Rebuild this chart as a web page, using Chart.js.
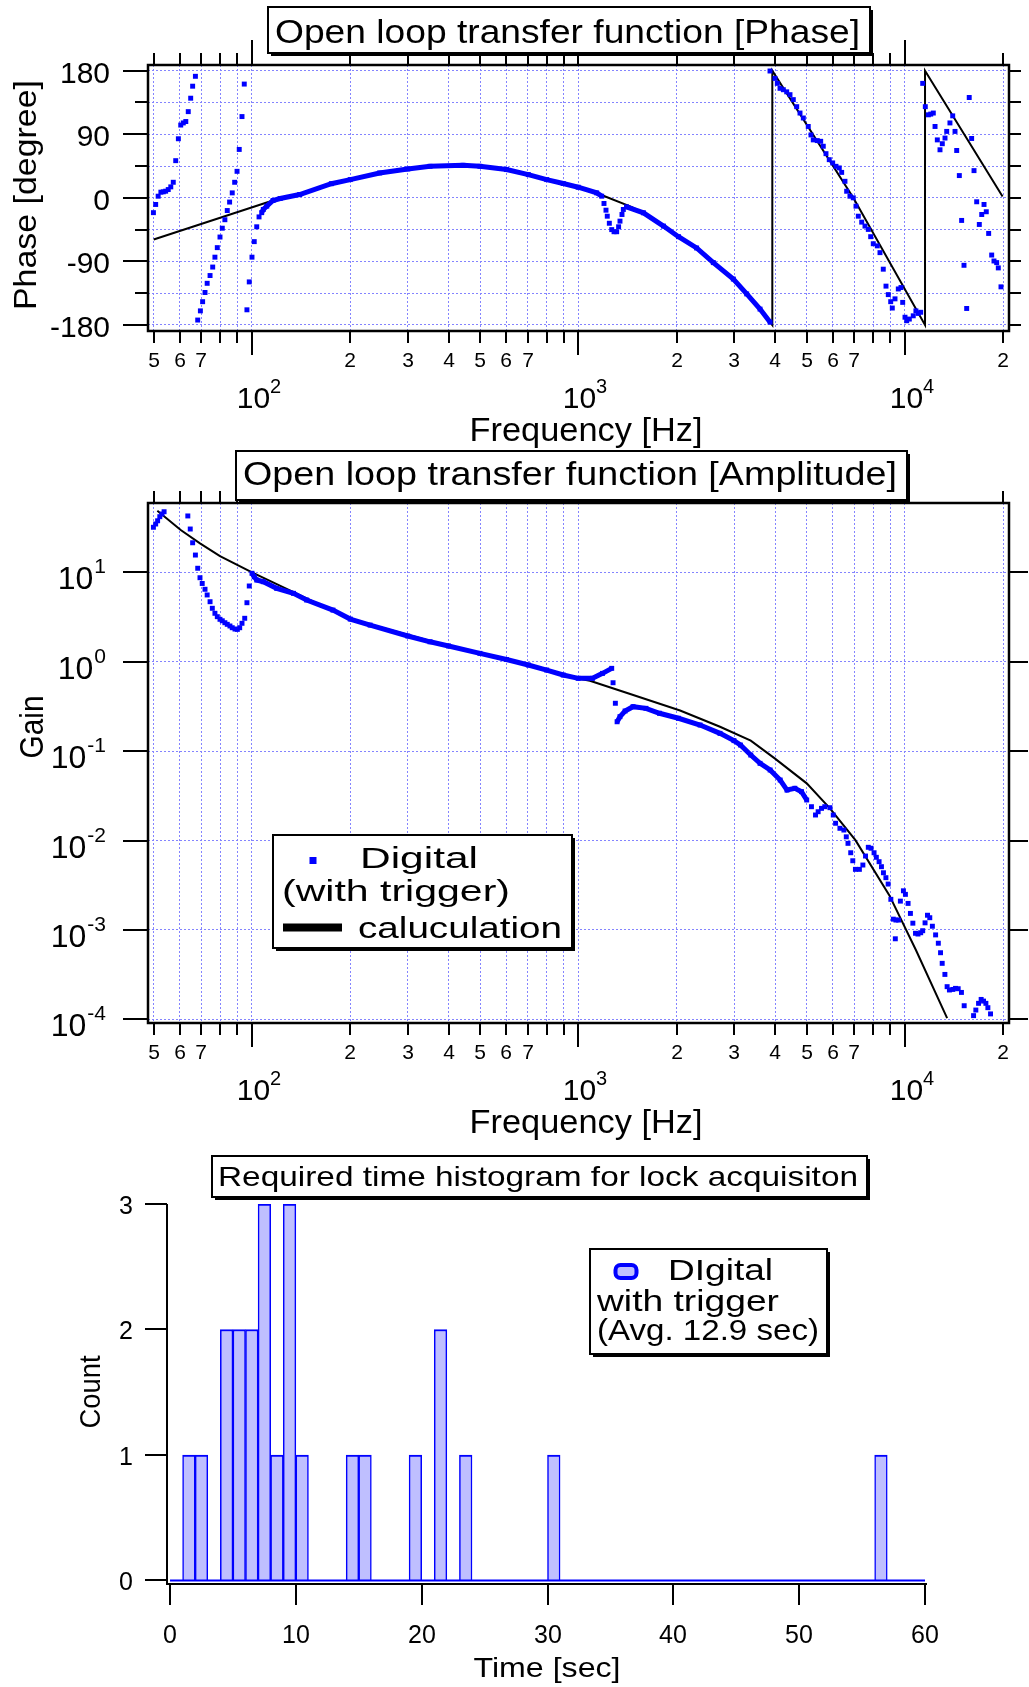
<!DOCTYPE html>
<html>
<head>
<meta charset="utf-8">
<title>Open loop transfer function</title>
<script src="https://cdn.jsdelivr.net/npm/chart.js@4.4.1/dist/chart.umd.min.js"></script>
<style>
  body { margin: 0; background: #fff; }
  #page { position: relative; width: 1029px; height: 1687px; }
  canvas { position: absolute; left: 0; }
</style>
</head>
<body>
<div id="page">
  <canvas id="phaseChart" width="1029" height="460" style="top:0px"></canvas>
  <canvas id="gainChart" width="1029" height="700" style="top:440px"></canvas>
  <canvas id="histChart" width="1029" height="547" style="top:1140px"></canvas>
</div>
<script>
// axis ticks
const freqTicks = [50, 60, 70, 80, 90, 100, 200, 300, 400, 500, 600, 700, 800, 900,
  1000, 2000, 3000, 4000, 5000, 6000, 7000, 8000, 9000, 10000, 20000];
const phaseTicks = [-180, -135, -90, -45, 0, 45, 90, 135, 180];
const phaseLabels = ['180', '90', '0', '-90', '-180'];
const phaseLabelAt = [180, 90, 0, -90, -180];
const gainTicks = [1e-4, 1e-3, 1e-2, 1e-1, 1, 10];
const gainExp = ['-4', '-3', '-2', '-1', '0', '1'];
const countTicks = [0, 1, 2, 3];
const timeTicks = [0, 10, 20, 30, 40, 50, 60];

// phase, measured (separate points)
const phaseSparseHz = [
  49.9, 50.7, 51.6, 52.6, 53.5, 54.4, 55.4, 56.4, 57.4, 58.4, 59.5, 60.5, 61.6, 62.7, 63.8, 64.9, 65.8, 67.1,
  68.2, 69.5, 70.6, 71.8, 72.9, 74.4, 75.8, 77.0, 78.3, 79.8, 81.1, 82.6, 84.0, 85.4, 87.0, 88.5, 90.0, 91.4, 93.2, 94.7,
  96.5, 98.1, 100, 101.6, 103.4, 105.1,
  1197, 1214, 1225, 1243, 1264, 1285, 1309, 1327, 1340, 1359, 1372,
  3860, 3998, 4064, 4142, 4240, 4342, 4444, 4549, 4659, 4769, 4882, 5055, 5153, 5237, 5387, 5518, 5620, 5728,
  5862, 6005, 6146, 6291, 6398, 6548, 6627, 6783, 6944, 7078, 7194, 7369, 7542, 7720, 7851, 7996, 8226, 8383,
  8580, 8746, 8889, 9041, 9143, 9319, 9539, 9722, 9839, 10000, 10120, 10310, 10600, 10800, 10980, 11170,
  11330, 11540, 11790, 11990, 12210, 12360, 12560, 12800, 13010, 13260, 13420, 13730, 14000, 14230, 14400,
  14670, 14910, 15160, 15450, 15730, 16000, 16270, 16580, 16890, 17180, 17460, 17740, 18040, 18430, 18730,
  19090, 19310, 19680];
const phaseSparseDeg = [
  -21, -9.4, 2.3, 8, 8.5, 9.4, 11.7, 15.5, 22, 52.6, 83.6, 103, 106, 108, 122, 141, 158, 172,
  -173, -160, -147, -134, -121, -110, -98, -84, -70.5, -55.5, -43, -31, -18, -6, 7, 22, 37.5, 68.5, 115, 161,
  -158.5, -119, -84, -62, -41, -27,
  -8, -17.5, -26, -36, -45, -48, -48, -41, -33, -23.6, -16.5,
  179.5, 169, 162, 155, 153, 150, 146, 139, 129, 120, 113, 101, 89, 82, 81, 80, 73, 62.5,
  54, 49.4, 44.6, 42.3, 36, 23.4, 9.3, 2.3, 0, -11.8, -26, -34.4, -40, -44.7, -55, -65, -68, -77.6,
  -101, -125, -137, -147, -156, -143, -129, -127, -148, -169, -174, -171.6, -167, -160, -163.6, -162,
  162, 129, 117.5, 118.5, 120, 101, 82, 68, 76.6, 84.6, 94, 106, 116, 94, 67,
  31.5, -32, -95.5, -156.6, 142, 84, 38.5, -5.6, -37.7, -23.6, -9.4, -19.7, -50.4, -81, -89.4,
  -91.7, -99.2, -126];

// phase, measured (dense sweep, drawn as a band; null = break)
const phaseBandHz = [107.1, 108.3, 111, 116, 122, 140, 175, 200, 246, 300, 351, 443, 499, 602, 702, 799, 898, 998, 1137, 1178,
  1190, 1403, 1581, 1821, 2024, 2300, 2588, 2980, 3275, 3598, 3863];
const phaseBandDeg = [-21, -16.5, -11.8, -3.8, -1, 4.7, 20, 25.8, 35.2, 40.9, 44.6, 46, 44.6, 40, 32.9, 25.8, 20.2, 15, 7, 2.3,
  null, -12.7, -21.2, -40, -55, -71, -91.7, -115, -136, -157.5, -176];

// phase, calculation
const phaseCalcHz = [50, 111, 122, 140, 175, 200, 246, 300, 351, 443, 499, 602, 702, 799, 898, 998, 1137, 1166, 1452,
  1581, 1821, 2024, 2300, 2588, 2980, 3275, 3598, 3923, 3923, 6944, 11517, 11517, 19900];
const phaseCalcDeg = [-59, -6.6, -1, 4.7, 20, 25.8, 35.2, 40.9, 44.6, 46, 44.6, 40, 32.9, 25.8, 20.2, 15, 7, 4.7, -12.7,
  -21.2, -40, -55, -71, -91.7, -115, -136, -157.5, -180, 180, 0, -180, 180, 2];

// gain, measured (separate points)
const gainSparseHz = [49.9, 50.7, 51.4, 52.2, 53.0, 53.8,
  63.6, 64.7, 65.8, 67.1, 68.2, 69.3, 70.4, 71.8, 72.9, 74.4, 75.6, 77.0, 78.3, 79.8, 81.1, 82.6, 84.0,
  85.6, 87.0, 88.7, 90.2, 91.7, 93.2, 95.0, 96.5, 98.1,
  1276, 1297,
  5170, 5320, 5420, 5550, 5680, 5890, 6030, 6130, 6320, 6500, 6610, 6690, 6820, 6920, 7050, 7250, 7430, 7570,
  7720, 7870, 8040, 8170, 8330, 8470, 8590, 8740, 8880, 9050, 9210, 9340, 9380, 9560, 9680, 9890, 10030,
  10220, 10390, 10570, 10770, 10960, 11170, 11330, 11520, 11720, 11910, 12130, 12410, 12650, 12850, 13000,
  13250, 13460, 13680, 14020, 14280, 14550, 14890, 15180, 16220, 16480, 16800, 17110, 17400, 17690, 17940, 18280];
const gainSparseVal = [31.9, 34.7, 37.7, 41.9, 44.9, 47.6,
  42.7, 30.5, 21.4, 15.6, 11.1, 8.7, 7.5, 6.46, 5.58, 4.69, 3.96, 3.48, 3.19, 2.98, 2.87, 2.73, 2.62,
  2.51, 2.40, 2.32, 2.30, 2.40, 2.69, 3.06, 4.57, 7.03,
  0.582, 0.343,
  0.0239, 0.0193, 0.021, 0.0229, 0.0239, 0.0233, 0.0193, 0.0156, 0.0137, 0.0131, 0.0110, 0.0093, 0.0073, 0.00594,
  0.00476, 0.00476, 0.00532, 0.00671, 0.0084, 0.0082, 0.0073, 0.00649, 0.0058, 0.0051, 0.00436, 0.00384, 0.00326,
  0.0022, 0.00132, 0.000796, 0.00129, 0.00129, 0.0021, 0.00274, 0.0025, 0.00198, 0.00153, 0.00119, 0.000917,
  0.0009, 0.00093, 0.00098, 0.0012, 0.00146, 0.00137, 0.0011, 0.00088, 0.00071, 0.000556, 0.000423,
  0.000318, 0.000232, 0.000213, 0.000216, 0.000222, 0.00022, 0.0002, 0.000142, 0.00011, 0.000127, 0.000151,
  0.000167, 0.00016, 0.000151, 0.000135, 0.000115];

// gain, measured (dense sweep)
const gainBandHz = [100, 101.6, 103.4, 108.3, 119, 134, 147, 177, 200, 230, 300, 351, 400, 499, 602, 702, 799, 898,
  998, 1104, 1185, 1264, 1290, 1313, 1340, 1389, 1469, 1609, 1770, 2024, 2357, 2713, 2993, 3133, 3370, 3598, 3863,
  4147, 4351, 4600, 4820, 5000];
const gainBandVal = [9.75, 8.93, 8.2, 7.85, 6.62, 5.82, 4.90, 3.78, 3.0, 2.57, 1.94, 1.67, 1.50, 1.24, 1.06, 0.919, 0.807, 0.71,
  0.652, 0.652, 0.741, 0.843, null, 0.213, 0.243, 0.281, 0.314, 0.301, 0.265, 0.233, 0.196, 0.158, 0.131, 0.117, 0.0904, 0.073, 0.0615,
  0.0475, 0.0367, 0.0384, 0.0352, 0.0284];

// gain, calculation
const gainCalcHz = [51.3, 60.5, 69.3, 79.8, 100, 200, 400, 700, 998, 1084, 1440, 2047, 2713, 3370, 3990, 5000, 5890,
  7050, 8950, 10800, 13460];
const gainCalcVal = [48.9, 29.7, 21.1, 15.2, 10, 3.0, 1.5, 0.92, 0.65, 0.612, 0.435, 0.285, 0.1875, 0.131, 0.083, 0.0436,
  0.0229, 0.0101, 0.00245, 0.000596, 0.000103];

// lock acquisition time histogram, 1 sec bins starting at 0 sec
const lockCounts = [0, 1, 1, 0, 2, 2, 2, 3, 1, 3, 1, 0, 0, 0, 1, 1, 0, 0, 0, 1,
  0, 2, 0, 1, 0, 0, 0, 0, 0, 0, 1, 0, 0, 0, 0, 0, 0, 0, 0, 0,
  0, 0, 0, 0, 0, 0, 0, 0, 0, 0, 0, 0, 0, 0, 0, 0, 1, 0, 0, 0];

const BLUE = '#0000ff';
const GRID = '#8484ff';
const FONT = '"Liberation Sans", Arial, sans-serif';

const zip = (xs, ys) => xs.map((x, i) => ({x: x, y: ys[i]}));

function seg(ctx, x1, y1, x2, y2) {
  ctx.beginPath(); ctx.moveTo(x1, y1); ctx.lineTo(x2, y2); ctx.stroke();
}

// text helper: size = font px, o.width = stretch to that width, o.rot = rotation
function txt(ctx, s, x, y, size, o) {
  o = o || {};
  ctx.save();
  ctx.font = size + 'px ' + FONT;
  ctx.fillStyle = '#000';
  ctx.textAlign = 'left';
  ctx.textBaseline = 'alphabetic';
  const w = ctx.measureText(s).width;
  ctx.translate(x, y);
  if (o.rot) ctx.rotate(o.rot);
  if (o.width) ctx.scale(o.width / w, 1);
  let dx = 0;
  if (o.align === 'center') dx = -w / 2;
  else if (o.align === 'right') dx = -w;
  ctx.fillText(s, dx, 0);
  ctx.restore();
}

function box(ctx, x1, y1, x2, y2) {
  ctx.save();
  ctx.fillStyle = '#000';
  ctx.fillRect(x1 + 3, y1 + 3, x2 - x1, y2 - y1);
  ctx.fillStyle = '#fff';
  ctx.fillRect(x1, y1, x2 - x1, y2 - y1);
  ctx.lineWidth = 2;
  ctx.strokeStyle = '#000';
  ctx.strokeRect(x1, y1, x2 - x1, y2 - y1);
  ctx.restore();
}

function frame(ctx, a) {
  ctx.save();
  ctx.lineWidth = 2.5;
  ctx.strokeStyle = '#000';
  ctx.strokeRect(a.left, a.top, a.right - a.left, a.bottom - a.top);
  ctx.restore();
}

// log frequency axis: ticks on bottom and top, labels below
function freqAxis(ctx, a, x) {
  ctx.save();
  ctx.strokeStyle = '#000';
  ctx.lineWidth = 2;
  freqTicks.forEach(v => {
    const px = Math.round(x.getPixelForValue(v));
    const e = Math.floor(Math.log10(v) + 1e-9);
    const d = Math.round(v / Math.pow(10, e));
    seg(ctx, px, a.bottom, px, a.bottom + (d === 1 ? 24 : 12));
    seg(ctx, px, a.top, px, a.top - (d === 1 ? 25 : 12));
    if (d === 1) {
      txt(ctx, '10', px + 1.5, a.bottom + 77, 30, {align: 'center'});
      txt(ctx, String(e), px + 18, a.bottom + 62, 20);
    } else if (d <= 7) {
      txt(ctx, String(d), px, a.bottom + 36, 21, {align: 'center'});
    }
  });
  ctx.restore();
  txt(ctx, 'Frequency [Hz]', 586, a.bottom + 110, 33, {align: 'center', width: 233});
}

function freqScale() {
  return {
    type: 'logarithmic', min: 48.03, max: 20823, bounds: 'data',
    afterBuildTicks: s => { s.ticks = freqTicks.map(v => ({value: v})); },
    ticks: {display: false},
    grid: {color: GRID, lineWidth: 1, drawTicks: false},
    border: {display: false, dash: [2, 2]}
  };
}

const baseOptions = {
  responsive: false,
  animation: false,
  events: [],
  plugins: {legend: {display: false}, tooltip: {enabled: false}}
};

const pointStyle = {pointStyle: 'rect', pointRadius: 3.5, pointBorderWidth: 0, backgroundColor: BLUE, borderColor: BLUE};

// ---------- phase ----------
const phaseDecor = {
  id: 'phaseDecor',
  afterDraw(chart) {
    const {ctx, chartArea: a, scales: {x, y}} = chart;
    frame(ctx, a);
    ctx.save();
    ctx.strokeStyle = '#000';
    ctx.lineWidth = 2;
    phaseTicks.forEach(v => {
      const py = Math.round(y.getPixelForValue(v));
      seg(ctx, a.left - (v % 90 === 0 ? 25 : 13), py, a.left, py);
      seg(ctx, a.right, py, a.right + 12, py);
    });
    ctx.restore();
    phaseLabels.forEach((s, i) => txt(ctx, s, 110, y.getPixelForValue(phaseLabelAt[i]) + 12, 30, {align: 'right'}));
    freqAxis(ctx, a, x);
    txt(ctx, 'Phase [degree]', 36, 195, 32, {align: 'center', rot: -Math.PI / 2, width: 230});
    box(ctx, 268, 7, 870, 53);
    txt(ctx, 'Open loop transfer function [Phase]', 275, 43, 33, {width: 585});
  }
};

new Chart(document.getElementById('phaseChart'), {
  type: 'scatter',
  data: {
    datasets: [
      Object.assign({data: zip(phaseBandHz, phaseBandDeg), showLine: true, borderWidth: 5, spanGaps: false}, pointStyle),
      Object.assign({data: zip(phaseSparseHz, phaseSparseDeg), showLine: false}, pointStyle),
      {data: zip(phaseCalcHz, phaseCalcDeg), showLine: true, borderColor: '#000', borderWidth: 2, pointRadius: 0}
    ]
  },
  options: Object.assign({}, baseOptions, {
    layout: {autoPadding: false, padding: {left: 148, right: 20, top: 65, bottom: 129}},
    scales: {
      x: freqScale(),
      y: {
        type: 'linear', min: -188.5, max: 188, bounds: 'data',
        afterBuildTicks: s => { s.ticks = phaseTicks.map(v => ({value: v})); },
        ticks: {display: false},
        grid: {color: GRID, lineWidth: 1, drawTicks: false},
        border: {display: false, dash: [2, 2]}
      }
    }
  }),
  plugins: [phaseDecor]
});

// ---------- gain ----------
const gainDecor = {
  id: 'gainDecor',
  afterDraw(chart) {
    const {ctx, chartArea: c, scales: {x, y}} = chart;
    const off = 440;
    frame(ctx, c);
    ctx.save();
    ctx.translate(0, -off);
    const a = {left: c.left, right: c.right, top: c.top + off, bottom: c.bottom + off};
    ctx.strokeStyle = '#000';
    ctx.lineWidth = 2;
    gainTicks.forEach((v, i) => {
      const py = Math.round(y.getPixelForValue(v)) + off;
      seg(ctx, a.left - 25, py, a.left, py);
      seg(ctx, a.right, py, a.right + 19, py);
      ctx.font = '21px ' + FONT;
      const sw = ctx.measureText(gainExp[i]).width;
      txt(ctx, gainExp[i], 106 - sw, py + 1, 21);
      txt(ctx, '10', 106 - sw - 1, py + 17, 32, {align: 'right'});
    });
    freqAxis(ctx, a, x);
    txt(ctx, 'Gain', 43, 727, 33, {align: 'center', rot: -Math.PI / 2, width: 63});
    box(ctx, 236, 451, 907, 500);
    txt(ctx, 'Open loop transfer function [Amplitude]', 243, 485, 33, {width: 654});
    // legend
    box(ctx, 273, 835, 572, 948);
    ctx.fillStyle = BLUE;
    ctx.fillRect(309.5, 857, 7, 7);
    ctx.strokeStyle = '#000';
    ctx.lineWidth = 8;
    seg(ctx, 283, 927.5, 342, 927.5);
    txt(ctx, 'Digital', 360, 868, 29, {width: 118});
    txt(ctx, '(with trigger)', 282, 901, 29, {width: 228});
    txt(ctx, 'caluculation', 358, 938, 29, {width: 204});
    ctx.restore();
  }
};

new Chart(document.getElementById('gainChart'), {
  type: 'scatter',
  data: {
    datasets: [
      Object.assign({data: zip(gainBandHz, gainBandVal), showLine: true, borderWidth: 5, spanGaps: false}, pointStyle),
      Object.assign({data: zip(gainSparseHz, gainSparseVal), showLine: false}, pointStyle),
      {data: zip(gainCalcHz, gainCalcVal), showLine: true, borderColor: '#000', borderWidth: 2, pointRadius: 0}
    ]
  },
  options: Object.assign({}, baseOptions, {
    layout: {autoPadding: false, padding: {left: 148, right: 20, top: 63, bottom: 117}},
    scales: {
      x: freqScale(),
      y: {
        type: 'logarithmic', min: 9.1e-5, max: 59.6, bounds: 'data',
        afterBuildTicks: s => { s.ticks = gainTicks.map(v => ({value: v})); },
        ticks: {display: false},
        grid: {color: GRID, lineWidth: 1, drawTicks: false},
        border: {display: false, dash: [2, 2]}
      }
    }
  }),
  plugins: [gainDecor]
});

// ---------- histogram ----------
const histDecor = {
  id: 'histDecor',
  afterDraw(chart) {
    const {ctx, chartArea: c, scales: {x, y}} = chart;
    const off = 1140;
    ctx.save();
    ctx.translate(0, -off);
    const left = c.left, right = c.right, bot = c.bottom + off;
    const top = y.getPixelForValue(countTicks[countTicks.length - 1]) + off;
    ctx.strokeStyle = '#000';
    ctx.lineWidth = 2;
    seg(ctx, left, top, left, bot);
    seg(ctx, left - 1, bot, right, bot);
    countTicks.forEach(v => {
      const py = Math.round(y.getPixelForValue(v)) + off;
      seg(ctx, left - 22, py, left, py);
      txt(ctx, String(v), 133, py + 10, 25, {align: 'right'});
    });
    timeTicks.forEach(v => {
      const px = Math.round(x.getPixelForValue(v));
      seg(ctx, px, bot, px, bot + 21);
      txt(ctx, String(v), px, 1643, 25, {align: 'center'});
    });
    txt(ctx, 'Count', 100, 1392, 30, {align: 'center', rot: -Math.PI / 2, width: 73});
    txt(ctx, 'Time [sec]', 547, 1677, 28, {align: 'center', width: 147});
    box(ctx, 212, 1156, 867, 1197);
    txt(ctx, 'Required time histogram for lock acquisiton', 218, 1186, 28, {width: 640});
    // legend
    box(ctx, 590, 1249, 827, 1354);
    ctx.beginPath();
    ctx.roundRect(615.5, 1265, 21, 13, 5);
    ctx.fillStyle = '#bfbfff';
    ctx.fill();
    ctx.strokeStyle = BLUE;
    ctx.lineWidth = 4;
    ctx.stroke();
    txt(ctx, 'DIgital', 668, 1280, 29, {width: 105});
    txt(ctx, 'with trigger', 597, 1311, 29, {width: 182});
    txt(ctx, '(Avg. 12.9 sec)', 597, 1340, 29, {width: 222});
    ctx.restore();
  }
};

new Chart(document.getElementById('histChart'), {
  type: 'bar',
  data: {
    datasets: [
      {type: 'line', data: [{x: 0, y: 0}, {x: lockCounts.length, y: 0}], borderColor: BLUE, borderWidth: 2, pointRadius: 0},
      {
        type: 'bar',
        data: lockCounts.map((n, i) => ({x: i + 0.5, y: n})),
        backgroundColor: '#bfbfff',
        borderColor: BLUE,
        borderWidth: {top: 2, left: 1.5, right: 1.5, bottom: 0},
        barPercentage: 1,
        categoryPercentage: 1
      }
    ]
  },
  options: Object.assign({}, baseOptions, {
    layout: {autoPadding: false, padding: {left: 167, right: 102, top: 64, bottom: 103}},
    scales: {
      x: {type: 'linear', min: -0.24, max: 60.16, bounds: 'data', offset: false,
        afterBuildTicks: s => { s.ticks = timeTicks.map(v => ({value: v})); },
        ticks: {display: false}, grid: {display: false, drawTicks: false}, border: {display: false}},
      y: {type: 'linear', min: -0.028, max: 3, bounds: 'data',
        afterBuildTicks: s => { s.ticks = countTicks.map(v => ({value: v})); },
        ticks: {display: false}, grid: {display: false, drawTicks: false}, border: {display: false}}
    }
  }),
  plugins: [histDecor]
});
</script>
</body>
</html>
